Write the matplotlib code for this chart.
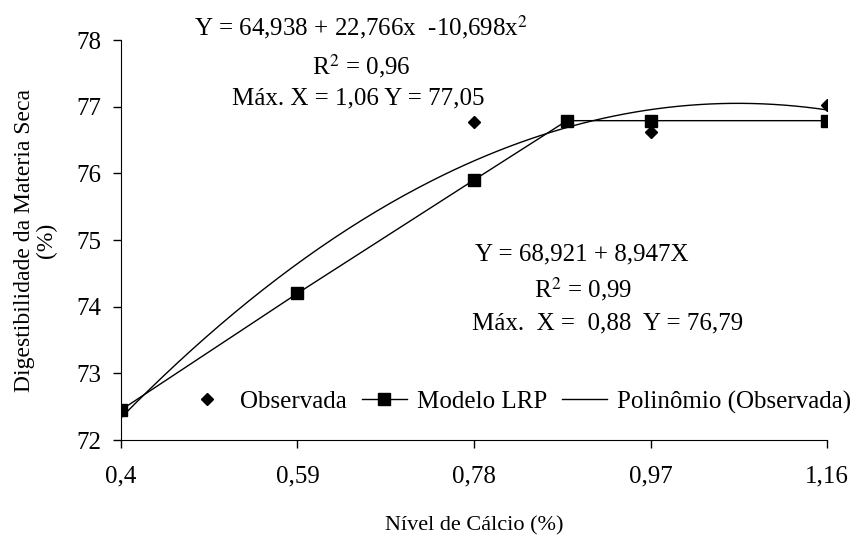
import numpy as np
import matplotlib
matplotlib.use("Agg")
import matplotlib.pyplot as plt

# dados
nivel_ca = [0.4, 0.59, 0.78, 0.97, 1.16]
tick_labels = ["0,4", "0,59", "0,78", "0,97", "1,16"]
observada = [72.45, 74.2, 76.77, 76.62, 77.03]

lrp_x = [0.4, 0.59, 0.78, 0.88, 0.97, 1.16]
lrp_y = [72.45, 74.2, 75.9, 76.79, 76.79, 76.79]

# coeficientes da linha de tendencia (x^2, x, 1)
poli_coef = [-10.698, 22.766, 64.938]

plt.rcParams["font.family"] = ["Liberation Serif", "DejaVu Serif"]
plt.rcParams["mathtext.fontset"] = "stix"

fs = 18

fig = plt.figure(figsize=(8.53, 5.44), dpi=100)
ax = fig.add_axes([121 / 853, 1 - 440 / 544, (827 - 121) / 853, (440 - 40) / 544])

xs = np.linspace(nivel_ca[0], nivel_ca[-1], 200)
ax.plot(nivel_ca, observada, "D", color="black", ms=6.5, ls="none", label="Observada")
ax.plot(lrp_x, lrp_y, "-s", color="black", lw=1, ms=8, label="Modelo LRP")
ax.plot(xs, np.polyval(poli_coef, xs), "-", color="black", lw=1, label="Polinômio (Observada)")

ax.set_xlim(0.4, 1.16)
ax.set_ylim(72, 78)
ax.set_xticks(nivel_ca)
ax.set_xticklabels(tick_labels)
ax.set_yticks(range(72, 79))

for s in ["top", "right"]:
    ax.spines[s].set_visible(False)
ax.tick_params(direction="out", length=6, width=1, labelsize=fs, colors="black")
ax.tick_params(axis="x", pad=12)
ax.tick_params(axis="y", pad=8)

ax.set_xlabel("Nível de Cálcio (%)", fontsize=16, labelpad=21)
ax.set_ylabel("Digestibilidade da Materia Seca\n(%)", fontsize=17, labelpad=14, linespacing=1.05)

fig.text(361 / 853, 1 - 27 / 544, "Y = 64,938 + 22,766x  -10,698x$^2$", ha="center", va="center", fontsize=fs)
fig.text(361 / 853, 1 - 66 / 544, "R$^2$ = 0,96", ha="center", va="center", fontsize=fs)
fig.text(358 / 853, 1 - 98 / 544, "Máx. X = 1,06 Y = 77,05", ha="center", va="center", fontsize=fs)

fig.text(475 / 853, 1 - 254 / 544, "Y = 68,921 + 8,947X", ha="left", va="center", fontsize=fs)
fig.text(583 / 853, 1 - 289 / 544, "R$^2$ = 0,99", ha="center", va="center", fontsize=fs)
fig.text(472 / 853, 1 - 323 / 544, "Máx.  X =  0,88  Y = 76,79", ha="left", va="center", fontsize=fs)

fig.legend(loc="center right", bbox_to_anchor=(851 / 853, 1 - 402 / 544), ncol=3, frameon=False,
           fontsize=fs, handlelength=1.8, columnspacing=0.6, handletextpad=0.4,
           borderaxespad=0, borderpad=0)

fig.savefig("out.png", dpi=100)
